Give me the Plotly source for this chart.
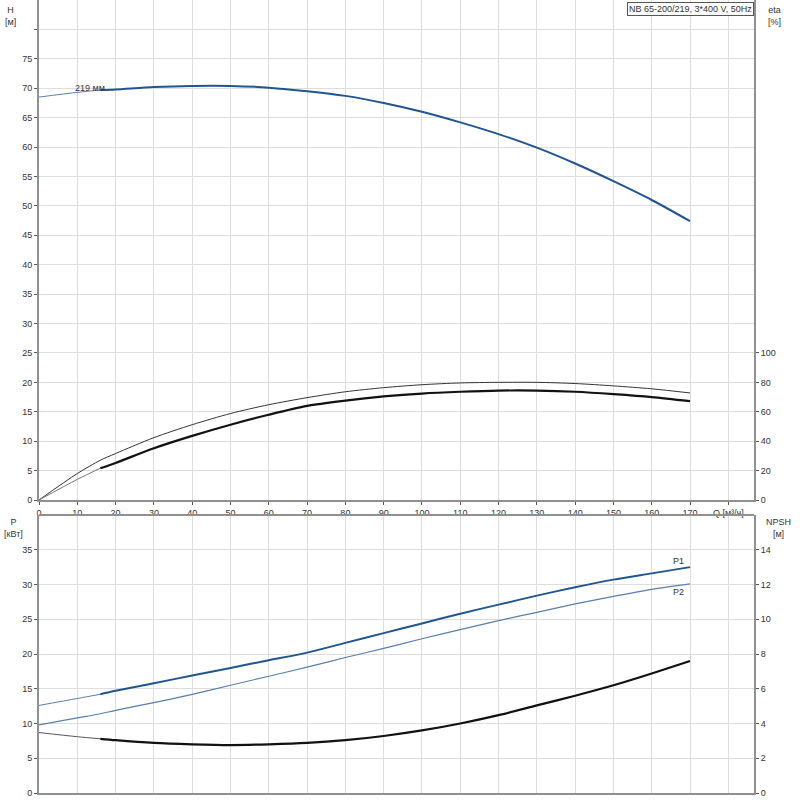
import plotly.graph_objects as go

q = [0, 10, 16, 20, 30, 40, 50, 60, 70, 80, 90, 100, 110, 120, 130, 140, 150, 160, 170]
head = [68.5, 69.3, 69.7, 69.8, 70.2, 70.4, 70.4, 70.1, 69.5, 68.7, 67.5, 66.0, 64.2, 62.2, 59.9, 57.2, 54.2, 51.0, 47.4]
eta_pump = [0, 18, 27, 31.6, 42.4, 51.2, 58.8, 64.8, 69.6, 73.6, 76.4, 78.4, 79.6, 80, 80, 79.2, 77.6, 75.6, 72.8]
eta_total = [0, 14, 21.6, 25.2, 35.2, 43.6, 51.2, 58, 64, 67.6, 70.4, 72.4, 73.6, 74.4, 74.4, 73.6, 72, 70, 67.2]
p1 = [12.6, 13.6, 14.2, 14.7, 15.8, 16.9, 18.0, 19.1, 20.2, 21.6, 23.0, 24.4, 25.8, 27.1, 28.4, 29.6, 30.7, 31.6, 32.5]
p2 = [9.8, 10.8, 11.4, 11.9, 13.0, 14.2, 15.5, 16.8, 18.1, 19.5, 20.8, 22.2, 23.5, 24.8, 26.0, 27.2, 28.3, 29.3, 30.1]
npsh = [3.48, 3.24, 3.12, 3.04, 2.88, 2.80, 2.76, 2.80, 2.88, 3.04, 3.28, 3.60, 4.00, 4.48, 5.04, 5.60, 6.20, 6.88, 7.60]

x_ticks = [0, 10, 20, 30, 40, 50, 60, 70, 80, 90, 100, 110, 120, 130, 140, 150, 160, 170, 180]
x_ticklabels = [str(v) for v in x_ticks[:-1]] + ["Q [м³/ч]"]
h_ticks = list(range(0, 80, 5))
eta_ticks = [0, 20, 40, 60, 80, 100]
p_ticks = list(range(0, 40, 5))
npsh_ticks = [0, 2, 4, 6, 8, 10, 12, 14]

title_text = "NB 65-200/219, 3*400 V, 50Hz"
curve_label = "219 мм"

BLUE = "#22558f"
THINBLUE = "#5a7fae"
BLACK = "#111111"

k = q.index(16)
fig = go.Figure()

def add(x, y, xa, ya, color, width):
    fig.add_trace(go.Scatter(x=x, y=y, xaxis=xa, yaxis=ya, mode="lines",
                             line=dict(color=color, width=width, shape="spline", smoothing=0.8),
                             showlegend=False, hoverinfo="skip"))

# top plot
add(q[:k+1], head[:k+1], "x", "y", THINBLUE, 1)
add(q[k:], head[k:], "x", "y", BLUE, 2)
add(q, eta_pump, "x", "y2", "#333333", 1)
add(q[:k+1], eta_total[:k+1], "x", "y2", "#777777", 1)
add(q[k:], eta_total[k:], "x", "y2", BLACK, 2.2)
# bottom plot
add(q[:k+1], p1[:k+1], "x2", "y3", THINBLUE, 1)
add(q[k:], p1[k:], "x2", "y3", BLUE, 2)
add(q, p2, "x2", "y3", THINBLUE, 1.2)
add(q[:k+1], npsh[:k+1], "x2", "y4", "#555555", 1)
add(q[k:], npsh[k:], "x2", "y4", BLACK, 2.2)

font = dict(family="Liberation Sans, Arial, sans-serif", size=9, color="#333333")
grid = "#dedede"
axline = "#909090"

xcommon = dict(range=[0, 186.7], tickvals=x_ticks, gridcolor=grid, gridwidth=1, showline=True,
               linecolor=axline, linewidth=2, zeroline=False, ticks="outside", ticklen=3,
               tickcolor="#555", tickfont=font, fixedrange=True)

top_dom = [(793 - 500) / 793, 1.0]
bot_dom = [0.0, (793 - 515) / 793]

fig.update_layout(
    width=800, height=800, margin=dict(l=39, r=46, t=0, b=7),
    paper_bgcolor="white", plot_bgcolor="white", font=font,
    xaxis=dict(xcommon, domain=[0, 1], anchor="y", ticktext=x_ticklabels, showticklabels=True, mirror=False),
    xaxis2=dict(xcommon, domain=[0, 1], anchor="y3", showticklabels=False, ticks=""),
    yaxis=dict(domain=top_dom, range=[0, 85], tickvals=h_ticks + [80], ticktext=[str(v) for v in h_ticks] + [""],
               gridcolor=grid, showline=True, linecolor=axline, linewidth=2, zeroline=False,
               ticks="outside", ticklen=3, tickcolor="#555", tickfont=font, anchor="x", fixedrange=True),
    yaxis2=dict(overlaying="y", side="right", range=[0, 340], tickvals=eta_ticks, showgrid=False,
                showline=True, linecolor=axline, linewidth=2, zeroline=False, ticks="outside", ticklen=3,
                tickcolor="#555", tickfont=font, anchor="x", fixedrange=True),
    yaxis3=dict(domain=bot_dom, range=[0, 40], tickvals=p_ticks, gridcolor=grid, showline=True,
                linecolor=axline, linewidth=2, zeroline=False, ticks="outside", ticklen=3,
                tickcolor="#555", tickfont=font, anchor="x2", fixedrange=True),
    yaxis4=dict(overlaying="y3", side="right", range=[0, 16], tickvals=npsh_ticks, showgrid=False,
                showline=True, linecolor=axline, linewidth=2, zeroline=False, ticks="outside", ticklen=3,
                tickcolor="#555", tickfont=font, anchor="x2", fixedrange=True),
)

fig.add_shape(type="line", xref="x2 domain", yref="y3 domain", x0=0, x1=1, y0=1, y1=1,
              line=dict(color=axline, width=2))

W = 800 - 39 - 46
H = 793
ann = [
    ("H<br>[м]", 10, 3),
    ("eta<br>[%]", 775, 3),
    ("P<br>[кВт]", 14, 515),
    ("NPSH<br>[м]", 778, 515),
]
for text, px, py in ann:
    fig.add_annotation(text=text, x=(px - 39) / W, y=1 - py / H, xref="paper", yref="paper",
                       xanchor="center", yanchor="top", showarrow=False, font=font, align="center")

fig.add_annotation(text=title_text, xref="paper", yref="paper", x=1, y=1 - 2 / H, xanchor="right",
                   yanchor="top", showarrow=False, font=font, bordercolor="#555", borderwidth=1,
                   bgcolor="white", borderpad=1)
fig.add_annotation(text=curve_label, x=13.3, y=70.1, xref="x", yref="y", showarrow=False, font=font,
                   xanchor="center", yanchor="middle")
fig.add_annotation(text="P1", x=169, y=p1[-1] - 0.1, xref="x2", yref="y3", showarrow=False, font=font,
                   xanchor="right", yanchor="bottom")
fig.add_annotation(text="P2", x=169, y=p2[-1] - 0.1, xref="x2", yref="y3", showarrow=False, font=font,
                   xanchor="right", yanchor="top")

fig.write_html("out.html")
